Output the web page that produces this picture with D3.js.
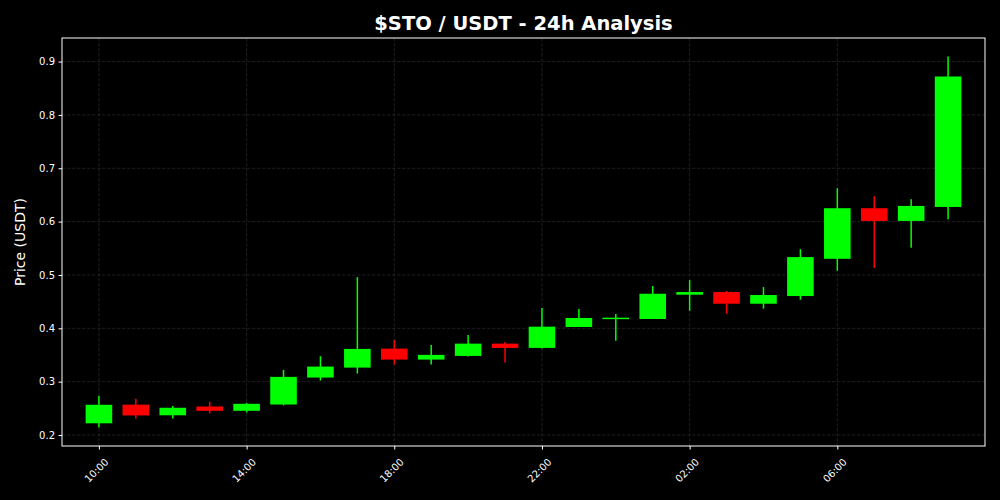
<!DOCTYPE html>
<html><head><meta charset="utf-8">
<script src="https://cdn.jsdelivr.net/npm/d3@7"></script>
<style>html,body{margin:0;padding:0;background:#000;}svg{display:block;}</style>
</head><body>
<script>
const hours = ["10:00","11:00","12:00","13:00","14:00","15:00","16:00","17:00","18:00","19:00","20:00","21:00","22:00","23:00","00:00","01:00","02:00","03:00","04:00","05:00","06:00","07:00","08:00","09:00"];
const openV  = [0.222,0.257,0.237,0.2535,0.2454,0.2572,0.3077,0.3264,0.362,0.3414,0.3483,0.3713,0.3633,0.4025,0.4194,0.4175,0.463,0.468,0.4461,0.4605,0.5303,0.6251,0.6013,0.6275];
const closeV = [0.2567,0.2367,0.2511,0.2454,0.2585,0.309,0.3283,0.3614,0.3414,0.3502,0.3713,0.3633,0.4031,0.4194,0.420,0.4648,0.468,0.4461,0.4624,0.5335,0.6251,0.6013,0.6294,0.872];
const highV  = [0.2735,0.2679,0.2542,0.2623,0.2604,0.3221,0.3477,0.496,0.3782,0.3689,0.3876,0.3745,0.4381,0.4362,0.4269,0.4792,0.4904,0.4699,0.4773,0.5484,0.6625,0.6475,0.6419,0.9094];
const lowV   = [0.2142,0.231,0.231,0.2404,0.2423,0.2554,0.3021,0.3152,0.332,0.332,0.347,0.3358,0.3620,0.4025,0.3769,0.4175,0.433,0.4274,0.4368,0.4536,0.5078,0.5129,0.5508,0.6045];
const yTicks = [0.2,0.3,0.4,0.5,0.6,0.7,0.8,0.9];
const xTickLabels = ["10:00","14:00","18:00","22:00","02:00","06:00"];
const title = "$STO / USDT - 24h Analysis";
const yLabel = "Price (USDT)";

const W = 1000, H = 500;
const m = {l:62, r:15, t:38, b:54};
const svg = d3.select("body").append("svg").attr("width",W).attr("height",H).style("background","#000");

const HOUR = 3600*1000;
const t0 = new Date(2024,0,1,10,0,0).getTime();
const data = hours.map((h,i)=>({t:new Date(t0+i*HOUR), label:h, o:openV[i], c:closeV[i], h:highV[i], l:lowV[i]}));

const x = d3.scaleTime().domain([new Date(t0-HOUR), new Date(t0+24*HOUR)]).range([m.l, W-m.r]);
const lo = d3.min(lowV), hi = d3.max(highV), pad = (hi-lo)*0.05;
const y = d3.scaleLinear().domain([lo-pad, hi+pad]).range([H-m.b, m.t]);

const font = "DejaVu Sans, sans-serif";
const tickTimes = xTickLabels.map(lab => data.find(d=>d.label===lab).t);

// grid
const g = svg.append("g");
g.selectAll("line.gy").data(yTicks).join("line")
  .attr("x1",m.l).attr("x2",W-m.r).attr("y1",d=>y(d)).attr("y2",d=>y(d))
  .attr("stroke","#262626").attr("stroke-width",0.8).attr("stroke-dasharray","3.5,1.5");
g.selectAll("line.gx").data(tickTimes).join("line")
  .attr("y1",m.t).attr("y2",H-m.b).attr("x1",d=>x(d)).attr("x2",d=>x(d))
  .attr("stroke","#262626").attr("stroke-width",0.8).attr("stroke-dasharray","3.5,1.5");

// candles
const bw = x(new Date(t0+0.72*HOUR)) - x(new Date(t0));
const col = d => d.c >= d.o ? "#00ff00" : "#ff0000";
const cg = svg.append("g");
cg.selectAll("line.w").data(data).join("line")
  .attr("x1",d=>x(d.t)).attr("x2",d=>x(d.t)).attr("y1",d=>y(d.h)).attr("y2",d=>y(d.l))
  .attr("stroke",col).attr("stroke-width",1.5);
cg.selectAll("rect").data(data).join("rect")
  .attr("x",d=>x(d.t)-bw/2).attr("width",bw)
  .attr("y",d=>y(Math.max(d.o,d.c)))
  .attr("height",d=>Math.max(1.5, Math.abs(y(d.o)-y(d.c))))
  .attr("fill",col);

// axes
const yAxis = d3.axisLeft(y).tickValues(yTicks).tickFormat(d3.format(".1f")).tickSize(3.5).tickPadding(3.5);
const ya = svg.append("g").attr("transform",`translate(${m.l},0)`).call(yAxis);
ya.select(".domain").remove();
ya.selectAll("line").attr("stroke","#fff");
ya.selectAll("text").attr("fill","#fff").style("font-family",font).style("font-size","10px");

const xAxis = d3.axisBottom(x).tickValues(tickTimes).tickFormat(d3.timeFormat("%H:%M")).tickSize(3.5).tickPadding(3);
const xa = svg.append("g").attr("transform",`translate(0,${H-m.b})`).call(xAxis);
xa.select(".domain").remove();
xa.selectAll("line").attr("stroke","#fff");
xa.selectAll("text").attr("fill","#fff").style("font-family",font).style("font-size","10px")
  .attr("text-anchor","end").attr("dy","0.3em")
  .attr("transform","translate(3,10) rotate(-45)");

// frame
svg.append("rect").attr("x",m.l).attr("y",m.t).attr("width",W-m.r-m.l).attr("height",H-m.b-m.t)
  .attr("fill","none").attr("stroke","#fff").attr("stroke-width",1);

// title & labels
svg.append("text").attr("x",(m.l+W-m.r)/2).attr("y",30).attr("text-anchor","middle")
  .attr("fill","#fff").style("font-family",font).style("font-weight","bold").style("font-size","19.5px").text(title);
svg.append("text").attr("transform",`translate(25,${(m.t+H-m.b)/2}) rotate(-90)`).attr("text-anchor","middle")
  .attr("fill","#fff").style("font-family",font).style("font-size","14px").text(yLabel);
</script>
</body></html>
